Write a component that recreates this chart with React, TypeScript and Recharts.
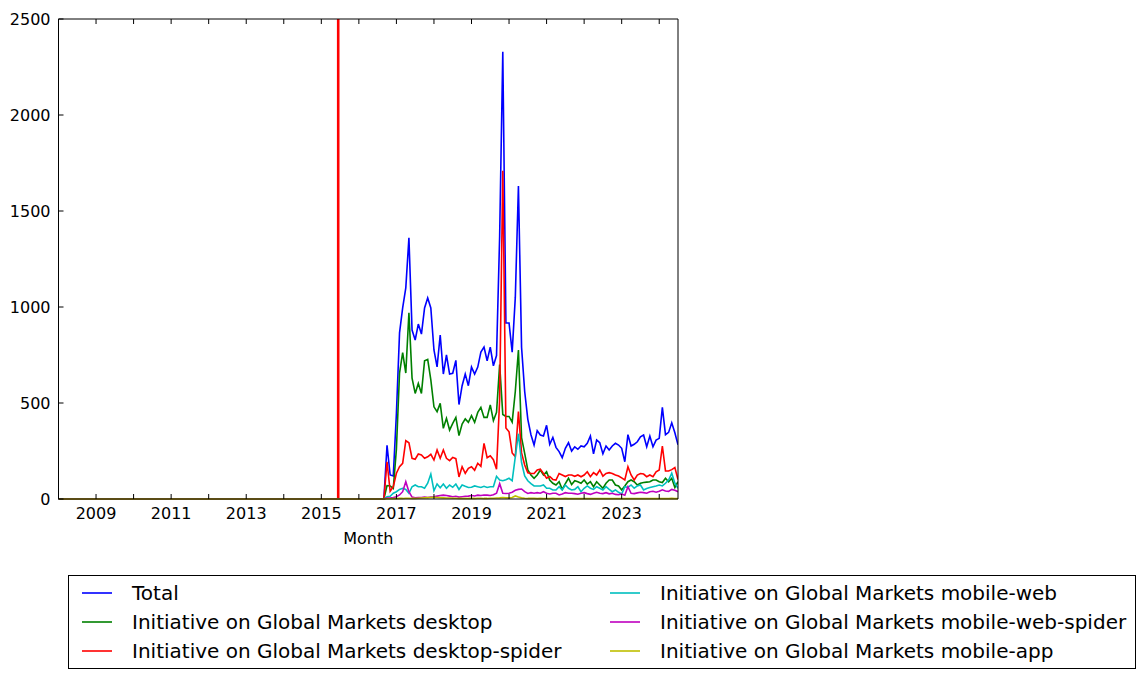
import { LineChart, Line, XAxis, YAxis, ReferenceLine, Legend } from 'recharts';

const FONT = '"DejaVu Sans", "Bitstream Vera Sans", sans-serif';

// months are counted from Jan 2008; the series are all zero until Sep 2016
const firstYear = 2008;
const lastMonth = 198; // Jul 2024
const activeFrom = 104; // Sep 2016
const eventMonth = 2015.45; // red marker line

const yearTicks = [2008, 2009, 2010, 2011, 2012, 2013, 2014, 2015, 2016, 2017, 2018, 2019, 2020, 2021, 2022, 2023, 2024];
const valueTicks = [0, 500, 1000, 1500, 2000, 2500];

// Sep 2016 .. Jul 2024, one row per year
const total = [
  0, 280, 125, 120,
  445, 865, 995, 1100, 1360, 880, 828, 911, 859, 995, 1047, 995,
  776, 688, 854, 651, 750, 651, 655, 722, 492, 590, 651, 590,
  687, 651, 687, 765, 791, 720, 791, 694, 747, 1370, 2330, 917,
  917, 765, 1050, 1630, 790, 560, 415, 335, 281, 356, 333, 328,
  384, 285, 321, 269, 247, 215, 264, 293, 250, 272, 259, 276,
  272, 290, 328, 235, 307, 293, 235, 276, 255, 276, 290, 281,
  264, 194, 335, 276, 285, 298, 324, 333, 272, 328, 272, 307,
  316, 477, 335, 347, 397, 345, 282,
];

const desktop = [
  0, 70, 68, 55,
  260, 656, 762, 656, 970, 630, 550, 602, 550, 720, 727, 620,
  480, 455, 498, 368, 420, 359, 394, 425, 330, 390, 417, 399,
  434, 399, 451, 477, 425, 425, 490, 408, 451, 700, 440, 430,
  430, 400, 560, 776, 320, 238, 151, 125, 108, 125, 151, 125,
  142, 99, 82, 73, 90, 50, 80, 108, 75, 95, 90, 82,
  99, 78, 90, 64, 90, 73, 56, 82, 99, 99, 73, 68,
  47, 68, 90, 99, 90, 73, 82, 86, 88, 90, 99, 99,
  90, 86, 108, 90, 108, 60, 90,
];

const desktopSpider = [
  0, 194, 40, 64,
  134, 168, 186, 304, 293, 212, 207, 234, 229, 212, 220, 233,
  203, 255, 212, 255, 212, 200, 217, 210, 115, 168, 134, 160,
  168, 150, 186, 170, 290, 215, 225, 205, 155, 520, 1710, 370,
  350, 240, 220, 455, 240, 177, 137, 133, 133, 151, 155, 133,
  108, 117, 102, 99, 133, 125, 117, 125, 125, 118, 125, 116,
  125, 142, 116, 137, 125, 151, 119, 133, 137, 133, 125, 120,
  110, 99, 168, 125, 99, 125, 133, 130, 116, 125, 116, 142,
  151, 276, 146, 146, 153, 164, 101,
];

const mobileWeb = [
  0, 12, 14, 30,
  38, 50, 56, 50, 30, 64, 73, 64, 64, 56, 82, 130,
  43, 78, 59, 78, 56, 73, 61, 78, 50, 73, 66, 60,
  61, 68, 64, 60, 66, 60, 64, 64, 118, 99, 95, 100,
  108, 95, 220, 340, 190, 120, 95, 80, 68, 68, 68, 73,
  56, 56, 47, 47, 64, 47, 73, 56, 47, 50, 64, 38,
  56, 68, 56, 50, 64, 56, 47, 64, 50, 38, 47, 35,
  26, 64, 60, 73, 56, 68, 73, 47, 55, 60, 64, 68,
  73, 68, 82, 99, 134, 82, 56,
];

const mobileWebSpider = [
  0, 5, 5, 8,
  12, 21, 38, 90, 38, 10, 6, 8, 8, 10, 8, 10,
  12, 15, 18, 20, 18, 15, 12, 14, 10, 12, 14, 15,
  18, 16, 20, 18, 21, 20, 18, 22, 30, 80, 30, 29,
  30, 35, 45, 50, 52, 38, 29, 33, 30, 33, 30, 38,
  30, 26, 30, 30, 21, 26, 33, 30, 30, 28, 25, 30,
  33, 28, 24, 30, 35, 30, 28, 33, 27, 30, 24, 22,
  26, 20, 64, 30, 28, 32, 35, 33, 30, 38, 40, 35,
  40, 48, 42, 40, 50, 45, 38,
];

const mobileApp = [
  0, 1, 1, 2,
  2, 3, 3, 4, 4, 3, 3, 4, 5, 6, 7, 8,
  9, 8, 7, 6, 5, 5, 4, 4, 3, 3, 4, 3,
  3, 3, 4, 4, 3, 3, 4, 4, 5, 6, 8, 6,
  6, 8, 16, 10, 6, 4, 3, 3, 3, 2, 3, 2,
  2, 2, 3, 2, 2, 2, 3, 2, 2, 2, 2, 2,
  2, 2, 2, 2, 2, 2, 2, 2, 2, 2, 2, 2,
  2, 2, 2, 2, 2, 2, 2, 2, 2, 2, 2, 2,
  2, 2, 2, 2, 3, 2, 2,
];

const series = [
  { key: 'total', name: 'Total', color: '#0000ff', values: total },
  { key: 'desktop', name: 'Initiative on Global Markets desktop', color: '#008000', values: desktop },
  { key: 'desktopSpider', name: 'Initiative on Global Markets desktop-spider', color: '#ff0000', values: desktopSpider },
  { key: 'mobileWeb', name: 'Initiative on Global Markets mobile-web', color: '#00bfbf', values: mobileWeb },
  { key: 'mobileWebSpider', name: 'Initiative on Global Markets mobile-web-spider', color: '#bf00bf', values: mobileWebSpider },
  { key: 'mobileApp', name: 'Initiative on Global Markets mobile-app', color: '#bfbf00', values: mobileApp },
];

const data = Array.from({ length: lastMonth + 1 }, (_, i) => {
  const row: Record<string, number> = { t: firstYear + i / 12 };
  series.forEach((s) => {
    row[s.key] = i < activeFrom ? 0 : s.values[i - activeFrom];
  });
  return row;
});

const xDomain = [firstYear, firstYear + lastMonth / 12];
const black = { stroke: '#000', strokeWidth: 1 };
const MARGIN = 10; // tickMargin used on every axis, tickSize is 0
const TICK = 5;

// matplotlib-like inward ticks; the axis position is recovered from tickMargin
const BottomTick = (p: any) => {
  const ay = p.y - MARGIN;
  const v = p.payload.value;
  return (
    <g>
      <line x1={p.x} x2={p.x} y1={ay} y2={ay - TICK} stroke="#000" />
      {v % 2 === 1 && (
        <text x={p.x} y={ay + 20} textAnchor="middle" fontSize={16} fontFamily={FONT} fill="#000">{v}</text>
      )}
    </g>
  );
};

const TopTick = (p: any) => {
  const ay = p.y + MARGIN;
  return <line x1={p.x} x2={p.x} y1={ay} y2={ay + TICK} stroke="#000" />;
};

const LeftTick = (p: any) => {
  const ax = p.x + MARGIN;
  return (
    <g>
      <line x1={ax} x2={ax + TICK} y1={p.y} y2={p.y} stroke="#000" />
      <text x={ax - 8} y={p.y + 6} textAnchor="end" fontSize={16} fontFamily={FONT} fill="#000">{p.payload.value}</text>
    </g>
  );
};

const RightTick = (p: any) => {
  const ax = p.x - MARGIN;
  return <line x1={ax} x2={ax - TICK} y1={p.y} y2={p.y} stroke="#000" />;
};

const renderLegend = () => (
  <div
    style={{
      boxSizing: 'border-box',
      width: 1068,
      height: 94,
      border: '1px solid #000',
      padding: '2px 0 0 13px',
      display: 'grid',
      gridTemplateColumns: '528px 1fr',
      gridTemplateRows: 'repeat(3, 29px)',
      gridAutoFlow: 'column',
      fontFamily: FONT,
      fontSize: 20,
      color: '#000',
      background: '#fff',
    }}
  >
    {series.map((s) => (
      <div key={s.key} style={{ display: 'flex', alignItems: 'center', whiteSpace: 'nowrap' }}>
        <svg width={30} height={4} style={{ marginRight: 20, flex: 'none' }}>
          <line x1={0} x2={30} y1={2} y2={2} stroke={s.color} strokeWidth={1.6} />
        </svg>
        <span>{s.name}</span>
      </div>
    ))}
  </div>
);

export default function App() {
  return (
    <LineChart width={1129} height={663} data={data} margin={{ top: 10, right: 458, bottom: 127, left: 0 }}>
      <XAxis
        xAxisId="b"
        dataKey="t"
        type="number"
        domain={xDomain}
        allowDataOverflow
        ticks={yearTicks}
        interval={0}
        tickSize={0}
        tickMargin={MARGIN}
        height={45}
        axisLine={black}
        tickLine={false}
        tick={BottomTick}
        label={{ value: 'Month', position: 'insideBottom', offset: 0, fill: '#000', fontSize: 16, fontFamily: FONT }}
      />
      <XAxis
        xAxisId="t"
        orientation="top"
        dataKey="t"
        type="number"
        domain={xDomain}
        allowDataOverflow
        ticks={yearTicks}
        interval={0}
        tickSize={0}
        tickMargin={MARGIN}
        height={1}
        axisLine={black}
        tickLine={false}
        tick={TopTick}
      />
      <YAxis
        yAxisId="l"
        type="number"
        domain={[0, 2500]}
        ticks={valueTicks}
        interval={0}
        width={50.5}
        tickSize={0}
        tickMargin={MARGIN}
        axisLine={black}
        tickLine={false}
        tick={LeftTick}
      />
      <YAxis
        yAxisId="r"
        orientation="right"
        type="number"
        domain={[0, 2500]}
        ticks={valueTicks}
        interval={0}
        width={1}
        tickSize={0}
        tickMargin={MARGIN}
        axisLine={black}
        tickLine={false}
        tick={RightTick}
      />
      <ReferenceLine xAxisId="b" yAxisId="l" x={eventMonth} stroke="#ff0000" strokeWidth={2.6} />
      {series.map((s) => (
        <Line
          key={s.key}
          xAxisId="b"
          yAxisId="l"
          type="linear"
          dataKey={s.key}
          name={s.name}
          stroke={s.color}
          strokeWidth={1.6}
          dot={false}
          activeDot={false}
          isAnimationActive={false}
        />
      ))}
      <Legend
        layout="horizontal"
        align="center"
        verticalAlign="middle"
        content={renderLegend}
        wrapperStyle={{ position: 'absolute', left: 60, top: 567, width: 1068, height: 94 }}
      />
    </LineChart>
  );
}
